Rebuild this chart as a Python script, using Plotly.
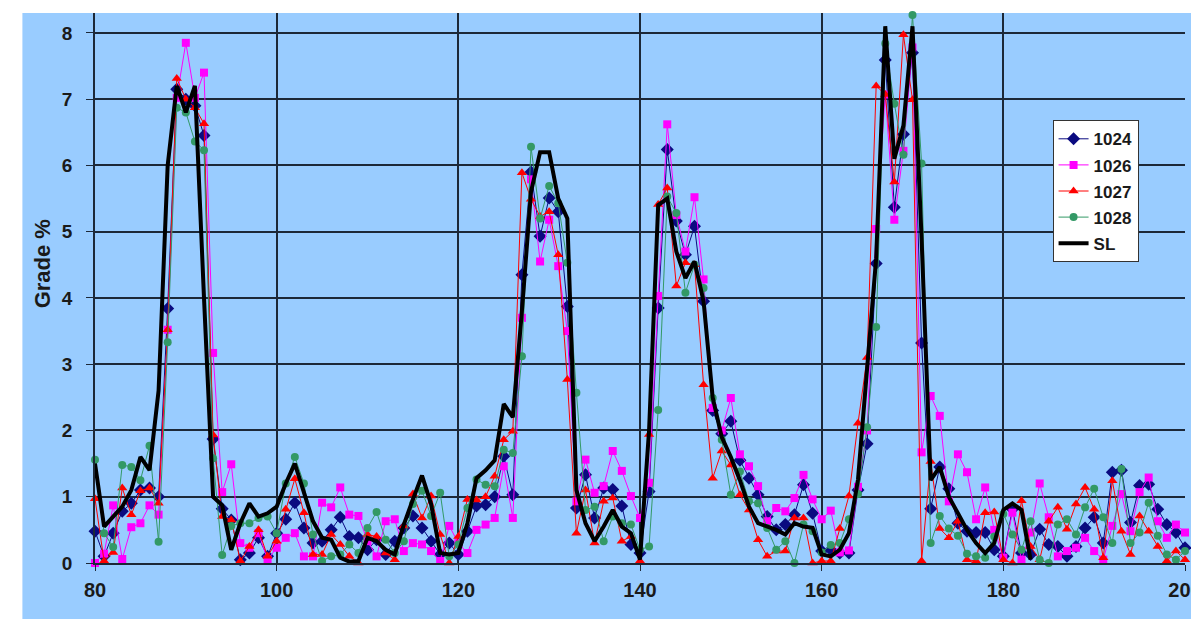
import plotly.graph_objects as go

feet = list(range(80, 201))

s1024 = [0.48, 0.1, 0.45, 0.78, 0.9, 1.1, 1.13, 1.0, 3.84, 7.15,
         7.0, 6.9, 6.45, 1.87, 0.82, 0.65, 0.05, 0.15, 0.38, 0.1,
         0.45, 0.66, 0.91, 0.53, 0.3, 0.33, 0.5, 0.69, 0.4, 0.38,
         0.2, 0.35, 0.13, 0.33, 0.53, 0.71, 0.53, 0.33, 0.13, 0.3,
         0.13, 0.48, 0.86, 0.88, 1.0, 1.61, 1.03, 4.35, 5.9, 4.93,
         5.51, 5.3, 3.87, 0.83, 1.33, 0.68, 1.13, 1.11, 0.86, 0.28,
         0.15, 1.08, 3.85, 6.24, 5.16, 4.65, 5.08, 3.95, 2.3, 1.95,
         2.14, 1.55, 1.28, 1.03, 0.7, 0.5, 0.58, 0.73, 1.18, 0.75,
         0.18, 0.2, 0.15, 0.15, 1.1, 1.8, 4.52, 7.59, 5.37, 6.47,
         7.7, 3.32, 0.82, 1.45, 1.12, 0.6, 0.48, 0.46, 0.46, 0.2,
         0.1, 0.81, 0.15, 0.13, 0.51, 0.28, 0.25, 0.1, 0.25, 0.53,
         0.69, 0.3, 1.37, 1.4, 0.61, 1.17, 1.19, 0.81, 0.58, 0.46,
         0.23]

s1026 = [0.0, 0.14, 0.87, 0.06, 0.54, 0.6, 0.87, 0.73, 3.52, 7.02,
         7.85, 7.02, 7.4, 3.17, 1.07, 1.49, 0.3, 0.23, 0.45, 0.05,
         0.23, 0.38, 0.45, 0.1, 0.1, 0.91, 0.84, 1.14, 0.73, 0.71,
         0.33, 0.1, 0.63, 0.66, 0.18, 0.3, 0.28, 0.18, 0.03, 0.56,
         0.3, 0.15, 0.5, 0.58, 0.68, 1.46, 0.68, 3.7, 5.79, 4.55,
         5.18, 4.48, 3.5, 0.93, 1.56, 1.06, 1.16, 1.69, 1.39, 1.01,
         0.68, 1.21, 4.03, 6.62, 5.25, 4.7, 5.52, 4.28, 2.34, 2.0,
         2.49, 1.64, 1.46, 1.16, 0.63, 0.83, 0.78, 0.98, 1.33, 0.96,
         0.66, 0.79, 0.16, 0.19, 1.15, 2.0, 5.04, 7.07, 5.18, 6.22,
         7.78, 1.67, 2.52, 2.22, 0.93, 1.64, 1.37, 0.66, 1.14, 0.5,
         0.08, 0.76, 0.05, 0.46, 1.2, 0.69, 0.1, 0.18, 0.23, 0.38,
         0.18, 0.05, 0.56, 1.04, 0.48, 1.07, 1.29, 0.63, 0.38, 0.58,
         0.46]

s1027 = [0.97, 0.03, 0.16, 1.13, 0.73, 1.09, 1.13, 0.9, 3.52, 7.31,
         7.0, 6.87, 6.63, 1.93, 0.7, 0.65, 0.03, 0.25, 0.5, 0.1,
         0.33, 0.81, 1.27, 0.76, 0.13, 0.13, 0.43, 0.28, 0.1, 0.0,
         0.43, 0.4, 0.15, 0.05, 0.56, 1.04, 0.68, 1.01, 0.43, 0.0,
         0.4, 0.96, 0.95, 1.0, 1.31, 1.86, 1.99, 5.89, 5.49, 5.23,
         5.3, 4.65, 2.77, 0.45, 1.1, 0.3, 0.93, 0.98, 0.33, 0.4,
         0.03, 1.94, 5.41, 5.66, 4.18, 4.53, 4.5, 2.69, 1.28, 1.69,
         1.48, 1.03, 0.8, 0.35, 0.1, 0.18, 0.18, 0.68, 0.68, 0.0,
         0.03, 0.03, 0.52, 1.01, 2.11, 3.1, 7.2, 7.07, 5.75, 7.97,
         6.99, 0.03, 1.53, 0.52, 0.38, 0.63, 0.05, 0.03, 0.76, 0.77,
         0.05, 0.0, 0.94, 0.25, 0.05, 0.63, 0.84, 0.51, 0.89, 1.14,
         0.81, 0.08, 1.24, 0.48, 0.13, 0.71, 0.48, 0.25, 0.03, 0.18,
         0.05]

s1028 = [1.56, 0.45, 0.24, 1.48, 1.45, 1.25, 1.77, 0.32, 3.33, 6.87,
         6.8, 6.36, 6.23, 1.58, 0.12, 0.56, 0.6, 0.6, 0.68, 0.7,
         0.45, 1.2, 1.6, 1.2, 0.43, 0.03, 0.1, 0.13, 0.28, 0.15,
         0.53, 0.77, 0.35, 0.15, 0.33, 0.89, 1.09, 0.71, 1.06, 0.1,
         0.28, 0.83, 1.26, 1.18, 1.16, 1.71, 1.66, 3.12, 6.28, 5.2,
         5.69, 5.43, 4.53, 2.57, 0.8, 0.85, 0.33, 0.7, 0.6, 0.58,
         0.2, 0.25, 2.31, 5.53, 5.28, 4.08, 4.5, 4.15, 2.49, 1.86,
         1.03, 1.38, 0.93, 0.9, 0.53, 0.2, 0.33, 0.0, 0.58, 0.48,
         0.16, 0.27, 0.3, 0.66, 1.04, 2.05, 3.56, 7.84, 6.93, 6.16,
         8.27, 6.03, 0.3, 0.71, 0.52, 0.41, 0.14, 0.1, 0.08, 0.4,
         0.74, 0.43, 0.2, 0.63, 0.05, 0.0, 0.58, 0.66, 0.43, 0.84,
         1.12, 0.69, 0.3, 1.42, 0.3, 0.46, 0.91, 0.41, 0.13, 0.05,
         0.18]

sSL = [1.5, 0.55, 0.7, 0.85, 1.1, 1.6, 1.4, 2.6, 6.0, 7.2,
       6.8, 7.2, 4.0, 1.0, 0.87, 0.2, 0.6, 0.9, 0.7, 0.75,
       0.85, 1.2, 1.5, 1.05, 0.63, 0.38, 0.35, 0.08, 0.02, 0.03,
       0.38, 0.33, 0.2, 0.13, 0.58, 0.96, 1.32, 0.89, 0.15, 0.13,
       0.15, 0.6, 1.28, 1.4, 1.55, 2.4, 2.2, 3.8, 5.6, 6.2,
       6.2, 5.5, 5.2, 1.1, 0.6, 0.33, 0.55, 0.8, 0.55, 0.45,
       0.05, 2.0, 5.4, 5.5, 4.7, 4.3, 4.55, 3.95, 2.5, 1.9,
       1.6, 1.25, 0.85, 0.6, 0.55, 0.5, 0.43, 0.6, 0.55, 0.53,
       0.13, 0.1, 0.2, 0.45, 1.26, 2.9, 4.6, 8.1, 6.1, 6.6,
       8.1, 4.9, 1.25, 1.45, 1.0, 0.75, 0.5, 0.3, 0.15, 0.3,
       0.8, 0.9, 0.8, 0.05] + [None] * 17

x_ticks = [80, 100, 120, 140, 160, 180, 200]
y_ticks = [0, 1, 2, 3, 4, 5, 6, 7, 8]

BLUE_BG = "#99CCFF"
GRID = "#1c2838"
TXT = "#1a1a1a"
FONT = "Liberation Sans"

series = [
    ("1024", s1024, "#0a0a80", "diamond", 10),
    ("1026", s1026, "#ff00ff", "square", 8),
    ("1027", s1027, "#ff0000", "triangle-up", 9),
    ("1028", s1028, "#339966", "circle", 8),
]

fig = go.Figure()
for name, vals, col, sym, sz in series:
    fig.add_trace(go.Scatter(
        x=feet, y=vals, name=name, mode="lines+markers",
        line=dict(color=col, width=1),
        marker=dict(symbol=sym, size=sz, color=col),
        legendgroup=name, cliponaxis=False,
    ))
fig.add_trace(go.Scatter(
    x=feet, y=sSL, name="SL", mode="lines",
    line=dict(color="black", width=4),
    legendgroup="SL", connectgaps=False, cliponaxis=False,
))

fig.update_layout(
    width=1199, height=619,
    margin=dict(l=87, r=15, t=5, b=64),
    paper_bgcolor="white",
    plot_bgcolor=BLUE_BG,
    font=dict(family=FONT, size=20, color=TXT, weight="bold"),
    showlegend=True,
    legend=dict(
        x=0.8785, y=0.805, xanchor="left", yanchor="top",
        bgcolor="white", bordercolor="#333333", borderwidth=1,
        font=dict(family=FONT, size=17, color=TXT, weight="bold"),
        tracegroupgap=1, traceorder="grouped",
    ),
    shapes=[dict(
        type="rect", xref="paper", yref="paper",
        x0=-0.0666, x1=1.03, y0=-0.14, y1=1.0,
        fillcolor=BLUE_BG, line=dict(width=0), layer="below",
    )],
    annotations=[
        dict(text="<b>Grade %</b>", xref="paper", yref="paper",
             x=(34 - 87) / 1097, y=(555 - 256) / 550,
             xanchor="center", yanchor="middle", textangle=-90,
             showarrow=False,
             font=dict(family=FONT, size=22, color=TXT, weight="bold")),
        dict(text="<b>Feet</b>", xref="paper", yref="paper",
             x=0.5, y=(555 - 608) / 550, xanchor="center", yanchor="top",
             showarrow=False,
             font=dict(family=FONT, size=22, color=TXT, weight="bold")),
    ],
)

fig.update_xaxes(
    range=[80, 200], tickvals=x_ticks,
    ticktext=["<b>%d</b>" % v for v in x_ticks],
    tickfont=dict(family=FONT, size=20, color=TXT, weight="bold"),
    ticklabeloverflow="allow",
    showgrid=True, gridcolor=GRID, gridwidth=1.5,
    showline=True, linecolor=GRID, linewidth=1.5,
    ticks="outside", ticklen=6, tickcolor=GRID, ticklabelstandoff=2,
    zeroline=False,
)
fig.update_yaxes(
    range=[0, 8.3], tickvals=y_ticks,
    ticktext=["<b>%d</b>" % v for v in y_ticks],
    tickfont=dict(family=FONT, size=19, color=TXT, weight="bold"),
    showgrid=True, gridcolor=GRID, gridwidth=1.5,
    showline=True, linecolor=GRID, linewidth=1.5,
    ticks="outside", ticklen=7, tickcolor=GRID, ticklabelstandoff=10,
    zeroline=False,
)

fig.write_html("out.html")
